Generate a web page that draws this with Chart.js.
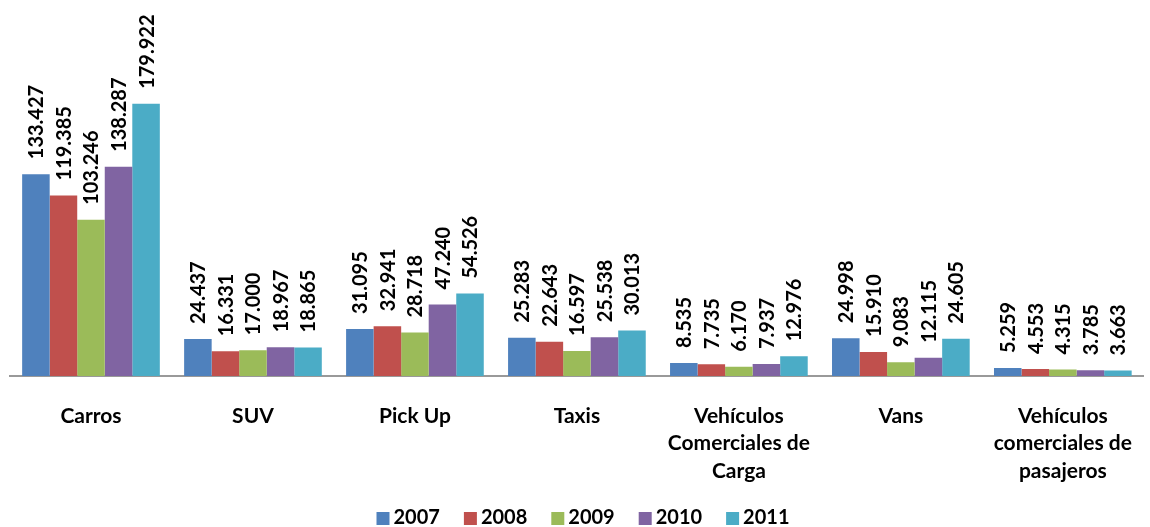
<!DOCTYPE html>
<html lang="es">
<head>
  <meta charset="UTF-8">
  <title>Vehículos por tipo 2007-2011</title>
  <script src="https://cdn.jsdelivr.net/npm/chart.js"></script>
  <style>
    html, body { margin: 0; padding: 0; background: #fff; }
    #wrap { width: 1150px; height: 527px; }
  </style>
</head>
<body>
  <div id="wrap"><canvas id="chart"></canvas></div>
  <script>
    const categories = [
      'Carros',
      'SUV',
      'Pick Up',
      'Taxis',
      ['Vehículos', 'Comerciales de', 'Carga'],
      'Vans',
      ['Vehículos', 'comerciales de', 'pasajeros']
    ];
    const years = ['2007', '2008', '2009', '2010', '2011'];
    const v2007 = [133427, 24437, 31095, 25283, 8535, 24998, 5259];
    const v2008 = [119385, 16331, 32941, 22643, 7735, 15910, 4553];
    const v2009 = [103246, 17000, 28718, 16597, 6170, 9083, 4315];
    const v2010 = [138287, 18967, 47240, 25538, 7937, 12115, 3785];
    const v2011 = [179922, 18865, 54526, 30013, 12976, 24605, 3663];
    const colors = ['#4F81BD', '#C0504D', '#9BBB59', '#8064A2', '#4BACC6'];

    const FONT = 'Lato, "Open Sans", sans-serif';
    const AXIS_Y = 376;

    // 133427 -> "133.427"
    function fmt(n) {
      return String(n).replace(/\B(?=(\d{3})+(?!\d))/g, '.');
    }

    // rotated value labels above every bar
    const valueLabels = {
      id: 'valueLabels',
      afterDatasetsDraw(chart) {
        const ctx = chart.ctx;
        ctx.save();
        ctx.fillStyle = '#000';
        ctx.font = 'bold 20px ' + FONT;
        ctx.textAlign = 'left';
        ctx.textBaseline = 'middle';
        chart.data.datasets.forEach((ds, i) => {
          chart.getDatasetMeta(i).data.forEach((bar, j) => {
            ctx.save();
            ctx.translate(bar.x + 1, bar.y - 15);
            ctx.rotate(-Math.PI / 2);
            ctx.fillText(fmt(ds.data[j]), 0, 0);
            ctx.restore();
          });
        });
        ctx.restore();
      }
    };

    // legend along the bottom edge, small squares close to the text
    const bottomLegend = {
      id: 'bottomLegend',
      afterDraw(chart) {
        const ctx = chart.ctx;
        const box = 13, gap = 4, spacing = 24, yMid = 518;
        ctx.save();
        ctx.font = 'bold 20px ' + FONT;
        ctx.textBaseline = 'middle';
        ctx.textAlign = 'left';
        const widths = years.map(y => box + gap + ctx.measureText(y).width);
        const total = widths.reduce((a, b) => a + b, 0) + spacing * (years.length - 1);
        let x = 583 - total / 2;
        years.forEach((y, i) => {
          ctx.fillStyle = colors[i];
          ctx.fillRect(x, yMid - 6, box, box);
          ctx.fillStyle = '#000';
          ctx.fillText(y, x + box + gap, yMid);
          x += widths[i] + spacing;
        });
        ctx.restore();
      }
    };

    const seriesData = [v2007, v2008, v2009, v2010, v2011];

    new Chart(document.getElementById('chart'), {
      type: 'bar',
      data: {
        labels: categories,
        datasets: years.map((y, i) => ({
          label: y,
          data: seriesData[i],
          backgroundColor: colors[i],
          borderWidth: 0,
          categoryPercentage: 0.85,
          barPercentage: 1.0
        }))
      },
      options: {
        responsive: true,
        maintainAspectRatio: false,
        animation: false,
        layout: { padding: { top: 13, left: 10, right: 0, bottom: 0 } },
        plugins: {
          tooltip: { enabled: false },
          legend: { display: false }
        },
        scales: {
          x: {
            grid: { display: false },
            border: { display: true, color: '#999', width: 2 },
            ticks: {
              color: '#000',
              font: { family: FONT, size: 21, weight: 'bold', lineHeight: 1.31 },
              padding: 18,
              maxRotation: 0,
              autoSkip: false
            },
            afterFit(scale) {
              scale.height = 527 - AXIS_Y;
            }
          },
          y: {
            display: false,
            min: 0,
            max: 240000
          }
        }
      },
      plugins: [valueLabels, bottomLegend]
    });
  </script>
</body>
</html>
